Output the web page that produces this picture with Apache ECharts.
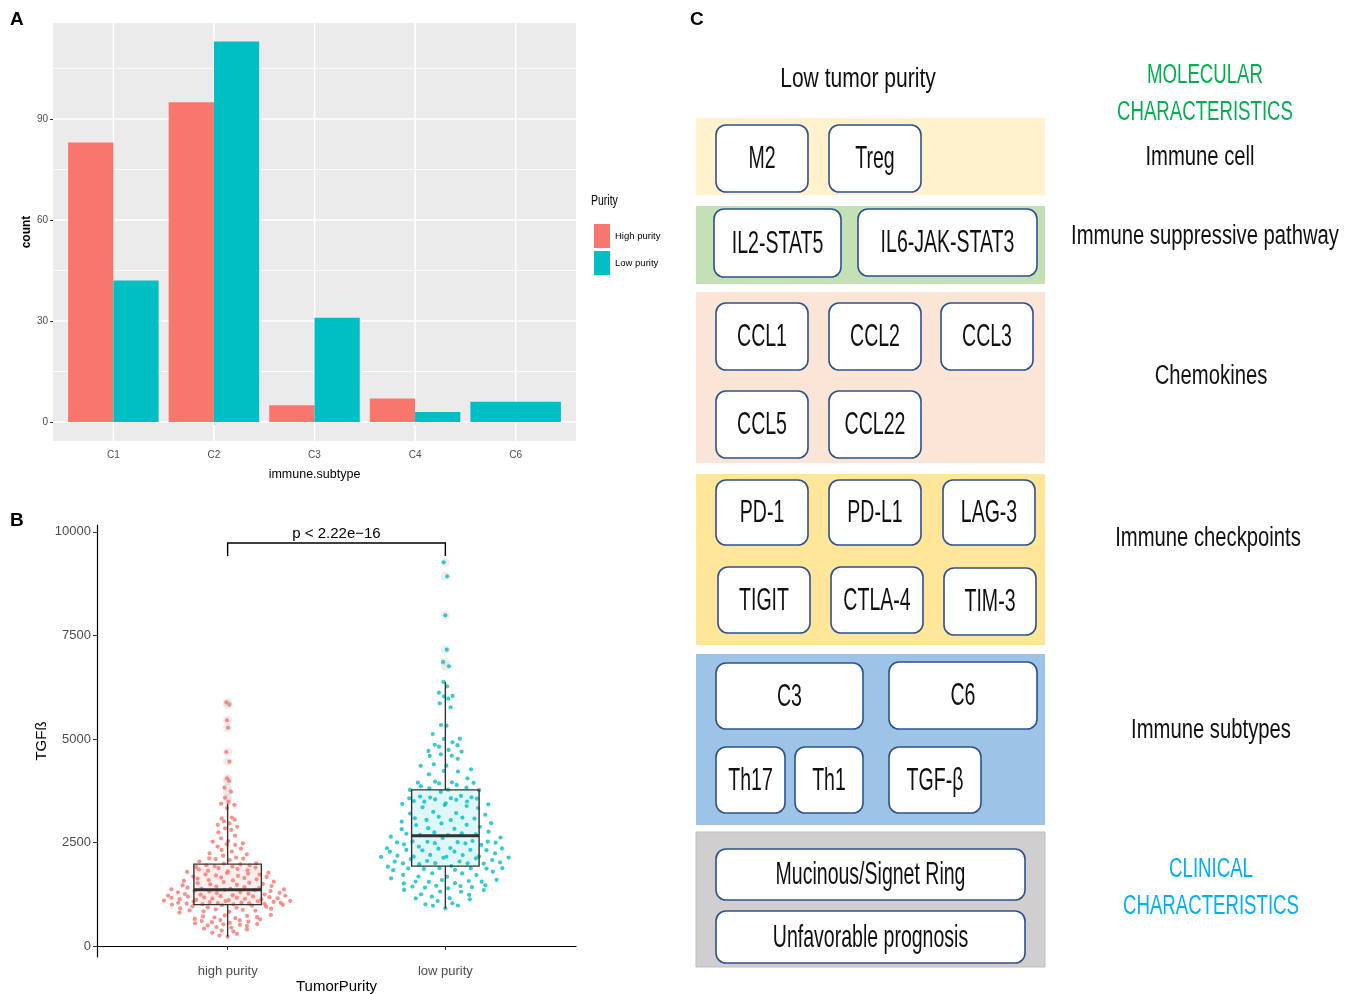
<!DOCTYPE html>
<html>
<head>
<meta charset="utf-8">
<script src="https://cdn.jsdelivr.net/npm/echarts@6/dist/echarts.min.js"></script>
<style>
  html, body { margin: 0; padding: 0; background: #fff; }
  #main { width: 1358px; height: 994px; }
</style>
</head>
<body>
<div id="main"></div>
<script>
// ---- panel A data ----
var subtypes = ['C1', 'C2', 'C3', 'C4', 'C6'];
var purityNames = ['High purity', 'Low purity'];
var highCount = [83, 95, 5, 7, null];
var lowCount = [42, 113, 31, 3, 6];
var countTicks = [0, 30, 60, 90];
var countMinor = [15, 45, 75, 105];

// ---- panel B data (TGFß per sample) ----
var groupNames = ['high purity', 'low purity'];
var tgfTicks = [0, 2500, 5000, 7500, 10000];
var pLabel = 'p < 2.22e\u221216';
var tgfHigh = [
  5884, 5828, 5450, 5272, 4685, 4451, 4049, 3984, 3823, 3727, 3582, 3485, 3437, 3410,
  3330, 3080, 3100, 3050, 3010, 2960, 2925,
  2880, 2842, 2802, 2745, 2665,
  2600, 2535, 2520, 2480, 2455, 2440,
  2400, 2350, 2320, 2280, 2240, 2214,
  2180, 2134, 2117, 2110, 2100, 2077, 2040, 1996, 1990, 1972,
  1950, 1944, 1931, 1917, 1906, 1893, 1878, 1862, 1847, 1829, 1818, 1801, 1789, 1771, 1763, 1748,
  1731, 1722, 1703, 1694, 1679, 1668, 1652, 1641,
  1627, 1612, 1594, 1583, 1571, 1552, 1543, 1528, 1517, 1502, 1488, 1476, 1463, 1449, 1437, 1421, 1409, 1398,
  1388, 1381, 1370, 1366, 1353, 1347, 1333, 1327, 1314, 1303, 1296, 1284, 1277, 1263, 1256, 1244, 1238,
  1226, 1219, 1213, 1204, 1196, 1191, 1180, 1174, 1166, 1161, 1153,
  1148, 1139, 1131, 1124, 1116, 1107, 1096, 1091, 1085, 1080, 1073, 1064, 1057, 1048, 1044, 1039, 1034,
  1028, 1022, 1017, 1012, 1006, 1002, 993,
  985, 973, 958, 949, 934, 923, 911, 900, 883, 874, 859, 851, 836, 824, 809, 751,
  741, 726, 714, 697, 688, 671, 653, 643, 628, 619, 602, 587, 574, 558, 549, 531, 522, 510,
  497, 482, 459, 447, 418, 399, 371, 352, 318, 291, 252, 225
];
var tgfLow = [
  9265, 8928, 7986, 7157, 6860, 6755, 6380, 6270, 6117, 6040, 6030, 5973, 5860, 5765, 5337, 5320, 5120, 5006, 5000,
  4919, 4858, 4850, 4814, 4734, 4710, 4693,
  4629, 4597, 4590, 4520,
  4388, 4355, 4350, 4267, 4227,
  4211, 4146, 4050,
  3969, 3953, 3945, 3940, 3929, 3890, 3860, 3824, 3808, 3775, 3770, 3762, 3720,
  3623, 3610, 3591, 3583, 3570, 3565, 3560, 3542, 3530, 3502, 3490, 3486,
  3446, 3430, 3422, 3405, 3381, 3350, 3330, 3240, 3210, 3200, 3170,
  3120, 3100, 3085, 3078, 3045, 3040, 3003, 2965, 2960, 2925, 2920, 2880, 2845, 2830, 2822,
  2760, 2745, 2721, 2710, 2697, 2685, 2678, 2641, 2617, 2605,
  2536, 2525, 2520, 2515, 2506, 2500, 2496, 2484, 2478, 2456, 2440, 2400, 2365, 2360, 2356, 2350,
  2322, 2319, 2315, 2310, 2280, 2278,
  2238, 2200, 2196, 2182, 2162, 2158, 2155, 2150, 2136, 2130, 2118, 2100, 2077, 2053, 2040, 2035,
  2021, 2000, 1997, 1993, 1990, 1975,
  1932, 1916, 1880, 1877, 1875, 1872, 1870, 1860, 1838, 1832, 1795, 1757, 1752, 1718, 1712, 1678, 1672,
  1635, 1597, 1591, 1570, 1557, 1554, 1550, 1516, 1511, 1466, 1452, 1447, 1436, 1421, 1409, 1393,
  1353, 1350, 1315, 1310, 1248, 1232, 1192, 1154, 1149,
  1127, 1087, 1031, 1007, 978, 972, 910
];

// ---- panel C text ----
var diagramTitle = 'Low tumor purity';
var sectionTitles = [['MOLECULAR', 'CHARACTERISTICS'], ['CLINICAL', 'CHARACTERISTICS']];
var featureRows = ['Immune cell', 'Immune suppressive pathway', 'Chemokines', 'Immune checkpoints', 'Immune subtypes'];
var featureItems = [
  ['M2', 'Treg'],
  ['IL2-STAT5', 'IL6-JAK-STAT3'],
  ['CCL1', 'CCL2', 'CCL3', 'CCL5', 'CCL22'],
  ['PD-1', 'PD-L1', 'LAG-3', 'TIGIT', 'CTLA-4', 'TIM-3'],
  ['C3', 'C6', 'Th17', 'Th1', 'TGF-\u03b2'],
  ['Mucinous/Signet Ring', 'Unfavorable prognosis']
];

var HIGH = '#F8766D', LOW = '#00BFC4';
var ARIAL = '"Liberation Sans", Arial, sans-serif';

var chart = echarts.init(document.getElementById('main'));

// quantile type 7 (as R)
function quantile(sorted, p) {
  var h = (sorted.length - 1) * p, lo = Math.floor(h);
  return sorted[lo] + (h - lo) * ((sorted[lo + 1] === undefined ? sorted[lo] : sorted[lo + 1]) - sorted[lo]);
}
function boxStats(vals) {
  var s = vals.slice().sort(function (a, b) { return a - b; });
  var q1 = quantile(s, 0.25), med = quantile(s, 0.5), q3 = quantile(s, 0.75);
  var iqr = q3 - q1, lo = q1 - 1.5 * iqr, hi = q3 + 1.5 * iqr;
  var inside = s.filter(function (v) { return v >= lo && v <= hi; });
  return {
    q1: q1, med: med, q3: q3,
    low: inside[0], high: inside[inside.length - 1],
    outliers: s.filter(function (v) { return v < lo || v > hi; }),
    sorted: s
  };
}
function vdc(k) {
  var v = 0, d = 1;
  while (k > 0) { d *= 2; v += (k % 2) / d; k = Math.floor(k / 2); }
  return v;
}
// quasirandom spread: offset scaled by kernel density
function quasi(st, center, halfWidth) {
  var s = st.sorted, n = s.length;
  var mean = s.reduce(function (a, b) { return a + b; }, 0) / n;
  var sd = Math.sqrt(s.reduce(function (a, b) { return a + (b - mean) * (b - mean); }, 0) / (n - 1));
  var bw = 0.9 * Math.min(sd, (st.q3 - st.q1) / 1.34) * Math.pow(n, -0.2);
  var dens = s.map(function (y) {
    var t = 0;
    for (var i = 0; i < n; i++) { var z = (y - s[i]) / bw; t += Math.exp(-0.5 * z * z); }
    return t;
  });
  var maxD = Math.max.apply(null, dens);
  return s.map(function (v, i) {
    return [center + (vdc(i + 1) - 0.5) * 2 * halfWidth * dens[i] / maxD, v];
  });
}

var statsHigh = boxStats(tgfHigh), statsLow = boxStats(tgfLow);
var allStats = [statsHigh, statsLow];

// ---- panel A bars (dodged like ggplot) ----
function barSeries(name, values, gi, color) {
  return {
    type: 'custom', name: name, xAxisIndex: 0, yAxisIndex: 0, z: 2,
    itemStyle: { color: color },
    data: values.map(function (v, i) { return [i + 1, v, i]; }).filter(function (d) { return d[1] != null; }),
    encode: { x: 0, y: 1 },
    renderItem: function (params, api) {
      var i = api.value(2);
      var present = [highCount[i] != null, lowCount[i] != null];
      var n = present.filter(Boolean).length;
      var slot = present.slice(0, gi).filter(Boolean).length;
      var w = 0.9 / n;
      var x0 = api.value(0) - 0.45 + slot * w;
      var p0 = api.coord([x0, 0]);
      var p1 = api.coord([x0 + w, api.value(1)]);
      return {
        type: 'rect',
        shape: { x: p0[0], y: p1[1], width: p1[0] - p0[0], height: p0[1] - p1[1] },
        style: { fill: color }
      };
    }
  };
}

var gridLineSeries = {
  type: 'custom', xAxisIndex: 0, yAxisIndex: 0, z: 1, silent: true,
  data: countTicks.map(function (v) { return [v, 1]; }).concat(countMinor.map(function (v) { return [v, 0]; })),
  encode: { x: -1, y: 0 },
  renderItem: function (params, api) {
    var cs = params.coordSys;
    var y = api.coord([1, api.value(0)])[1];
    return { type: 'line', shape: { x1: cs.x, y1: y, x2: cs.x + cs.width, y2: y },
      style: { stroke: '#ffffff', lineWidth: api.value(1) ? 1.5 : 0.8 } };
  }
};
var vLineSeries = {
  type: 'custom', xAxisIndex: 0, yAxisIndex: 0, z: 1, silent: true,
  data: subtypes.map(function (s, i) { return [i + 1]; }),
  encode: { x: 0, y: -1 },
  renderItem: function (params, api) {
    var cs = params.coordSys;
    var x = api.coord([api.value(0), 0])[0];
    return { type: 'line', shape: { x1: x, y1: cs.y, x2: x, y2: cs.y + cs.height },
      style: { stroke: '#ffffff', lineWidth: 1.5 } };
  }
};

// ---- panel B pieces ----
var BOX_HALF = 0.155;
function boxSeries(part, z) {
  return {
    type: 'custom', xAxisIndex: 1, yAxisIndex: 1, z: z, silent: true,
    data: allStats.map(function (st, i) { return [i + 1, st.low, st.q1, st.med, st.q3, st.high]; }),
    encode: { x: 0, y: [1, 5] },
    renderItem: function (params, api) {
      var gi = params.dataIndex;
      var x = api.value(0);
      var l = api.coord([x - BOX_HALF, api.value(2)]);
      var r = api.coord([x + BOX_HALF, api.value(4)]);
      if (part === 'fill') {
        return { type: 'rect', shape: { x: l[0], y: r[1], width: r[0] - l[0], height: l[1] - r[1] },
          style: { fill: gi === 0 ? 'rgba(248,118,109,0.12)' : 'rgba(0,191,196,0.12)' } };
      }
      var lw = api.coord([x, api.value(1)]), hw = api.coord([x, api.value(5)]);
      var m = api.coord([x, api.value(3)]);
      var ln = { stroke: '#333333', lineWidth: 1.4 };
      return { type: 'group', children: [
        { type: 'line', shape: { x1: hw[0], y1: hw[1], x2: hw[0], y2: r[1] }, style: ln },
        { type: 'line', shape: { x1: lw[0], y1: l[1], x2: lw[0], y2: lw[1] }, style: ln },
        { type: 'rect', shape: { x: l[0], y: r[1], width: r[0] - l[0], height: l[1] - r[1] },
          style: { fill: 'none', stroke: '#333333', lineWidth: 1.4 } },
        { type: 'line', shape: { x1: l[0], y1: m[1], x2: r[0], y2: m[1] }, style: { stroke: '#333333', lineWidth: 3 } }
      ] };
    }
  };
}

var bracketSeries = {
  type: 'custom', xAxisIndex: 1, yAxisIndex: 1, z: 5, silent: true,
  data: [[1, 2, 9732, 9419]],
  encode: { x: [0, 1], y: [2, 3] },
  renderItem: function (params, api) {
    var a = api.coord([api.value(0), api.value(2)]);
    var b = api.coord([api.value(1), api.value(2)]);
    var lowY = api.coord([1, api.value(3)])[1];
    return { type: 'group', children: [
      { type: 'polyline', shape: { points: [[a[0], lowY], [a[0], a[1]], [b[0], b[1]], [b[0], lowY]] },
        style: { stroke: '#000', lineWidth: 1.4, fill: 'none' } },
      { type: 'text', x: (a[0] + b[0]) / 2, y: a[1] - 2,
        style: { text: pLabel, fontSize: 15, fontFamily: ARIAL, fill: '#000',
          textAlign: 'center', textVerticalAlign: 'bottom' } }
    ] };
  }
};

function outlierSeries() {
  var d = [];
  allStats.forEach(function (st, i) { st.outliers.forEach(function (v) { d.push([i + 1, v]); }); });
  return { type: 'scatter', xAxisIndex: 1, yAxisIndex: 1, z: 2, silent: true, data: d,
    symbolSize: 9, itemStyle: { color: 'rgba(190,190,190,0.35)' } };
}
function pointSeries(st, gi, color) {
  return { type: 'scatter', xAxisIndex: 1, yAxisIndex: 1, z: 3, silent: true,
    data: quasi(st, gi + 1, 0.3), symbolSize: 4.2, itemStyle: { color: color } };
}

// ---- panel C diagram ----
var bands = [
  { y: 118, h: 77, fill: '#fff2cc', boxes: [[716,125,92,67],[829,125,92,67]] },
  { y: 206, h: 78, fill: '#c5e0b4', boxes: [[714,209,127,68],[858,209,179,67]] },
  { y: 292, h: 171, fill: '#fbe5d6', boxes: [[716,303,92,67],[829,303,92,67],[941,303,92,67],[716,391,92,67],[829,391,92,67]] },
  { y: 474, h: 171, fill: '#ffe699', boxes: [[716,480,92,65],[829,480,92,65],[943,480,92,65],[718,567,92,66],[831,567,92,66],[944,568,92,67]] },
  { y: 654, h: 171, fill: '#9dc3e6', boxes: [[716,663,147,66],[889,662,148,67],[716,747,69,66],[795,747,68,66],[889,747,92,66]] },
  { y: 832, h: 135, fill: '#d0cece', boxes: [[716,849,309,51],[716,911,309,52]] }
];
var rowLabelPos = [[1200,158],[1205,237],[1211,377],[1208,539],[1211,731]];
var sectionPos = [[[1205,76],[1205,113]], [[1211,870],[1211,907]]];
var sectionColor = ['#00b050', '#00b0f0'];

function txt(x, y, s, size, color, weight, align, sx) {
  return { type: 'text', x: x, y: y, z: 10, scaleX: sx || 1,
    style: { text: s, fontSize: size, fontFamily: ARIAL, fontWeight: weight || 'normal',
      fill: color || '#111', textAlign: align || 'center', textVerticalAlign: 'middle' } };
}

var graphics = [
  txt(10, 20, 'A', 19, '#000', 'bold', 'left'),
  txt(10, 521, 'B', 19, '#000', 'bold', 'left'),
  txt(690, 20, 'C', 19, '#000', 'bold', 'left'),
  txt(591, 201, 'Purity', 14, '#000', 'normal', 'left', 0.75),
  txt(858, 80, diagramTitle, 27, '#111', 'normal', 'center', 0.78)
];
bands.forEach(function (b, bi) {
  graphics.push({ type: 'rect', z: 1, shape: { x: 696, y: b.y, width: 349, height: b.h },
    style: { fill: b.fill, stroke: bi === 5 ? '#bfbfbf' : null, lineWidth: 1 } });
  b.boxes.forEach(function (r, k) {
    graphics.push({ type: 'rect', z: 2, shape: { x: r[0], y: r[1], width: r[2], height: r[3], r: 10 },
      style: { fill: '#ffffff', stroke: '#2f528f', lineWidth: 1.6 } });
    graphics.push(txt(r[0] + r[2] / 2, r[1] + r[3] / 2 + 1, featureItems[bi][k], 32, '#111', 'normal', 'center', 0.61));
  });
});
featureRows.forEach(function (s, i) {
  graphics.push(txt(rowLabelPos[i][0], rowLabelPos[i][1], s, 27, '#111', 'normal', 'center', 0.75));
});
sectionTitles.forEach(function (lines, i) {
  lines.forEach(function (s, j) {
    graphics.push(txt(sectionPos[i][j][0], sectionPos[i][j][1], s, 27, sectionColor[i], 'normal', 'center', 0.69));
  });
});

var option = {
  animation: false,
  backgroundColor: '#ffffff',
  legend: {
    left: 589, top: 219, orient: 'vertical', icon: 'rect', itemWidth: 16, itemHeight: 24, itemGap: 3,
    selectedMode: false, data: purityNames,
    textStyle: { fontSize: 9.5, fontFamily: ARIAL, color: '#000' }
  },
  grid: [
    { left: 53, top: 23, width: 523, height: 418, show: true, backgroundColor: '#ebebeb', borderWidth: 0,
      containLabel: false, outerBoundsMode: 'none' },
    { left: 97, top: 525, width: 479, height: 432, containLabel: false, outerBoundsMode: 'none' }
  ],
  xAxis: [
    { type: 'value', gridIndex: 0, min: 0.4, max: 5.6,
      axisLine: { show: false }, splitLine: { show: false },
      axisTick: { customValues: [1, 2, 3, 4, 5], length: 3, lineStyle: { color: '#333' } },
      axisLabel: { customValues: [1, 2, 3, 4, 5], fontSize: 10, fontFamily: ARIAL, color: '#4d4d4d', margin: 9,
        formatter: function (v) { return subtypes[Math.round(v) - 1]; } },
      name: 'immune.subtype', nameLocation: 'middle', nameGap: 27,
      nameTextStyle: { fontSize: 12.5, fontFamily: ARIAL, color: '#000' } },
    { type: 'value', gridIndex: 1, min: 0.4, max: 2.6,
      axisLine: { show: true, lineStyle: { color: '#000', width: 1.2 } }, splitLine: { show: false },
      axisTick: { customValues: [1, 2], length: 4, lineStyle: { color: '#333' } },
      axisLabel: { customValues: [1, 2], fontSize: 13, fontFamily: ARIAL, color: '#4d4d4d', margin: 8,
        formatter: function (v) { return groupNames[Math.round(v) - 1]; } },
      name: 'TumorPurity', nameLocation: 'middle', nameGap: 22,
      nameTextStyle: { fontSize: 15, fontFamily: ARIAL, color: '#000' } }
  ],
  yAxis: [
    { type: 'value', gridIndex: 0, min: -5.64, max: 118.5,
      axisLine: { show: false }, splitLine: { show: false },
      axisTick: { customValues: countTicks, length: 3, lineStyle: { color: '#333' } },
      axisLabel: { customValues: countTicks, fontSize: 10, fontFamily: ARIAL, color: '#4d4d4d', margin: 5 },
      name: 'count', nameLocation: 'middle', nameGap: 18, nameRotate: 90,
      nameTextStyle: { fontSize: 12, fontFamily: ARIAL, fontWeight: 'bold', color: '#000' } },
    { type: 'value', gridIndex: 1, min: -266, max: 10167,
      axisLine: { show: true, lineStyle: { color: '#000', width: 1.2 } }, splitLine: { show: false },
      axisTick: { customValues: tgfTicks, length: 4, lineStyle: { color: '#333' } },
      axisLabel: { customValues: tgfTicks, fontSize: 13, fontFamily: ARIAL, color: '#4d4d4d', margin: 6,
        formatter: function (v) { return String(v); } },
      name: 'TGF\u00df', nameLocation: 'middle', nameGap: 48, nameRotate: 90,
      nameTextStyle: { fontSize: 15, fontFamily: ARIAL, color: '#000' } }
  ],
  graphic: graphics,
  series: [
    gridLineSeries,
    vLineSeries,
    barSeries(purityNames[0], highCount, 0, HIGH),
    barSeries(purityNames[1], lowCount, 1, LOW),
    boxSeries('fill', 1),
    outlierSeries(),
    pointSeries(statsHigh, 0, HIGH),
    pointSeries(statsLow, 1, LOW),
    boxSeries('lines', 4),
    bracketSeries
  ]
};
chart.setOption(option);
</script>
</body>
</html>
